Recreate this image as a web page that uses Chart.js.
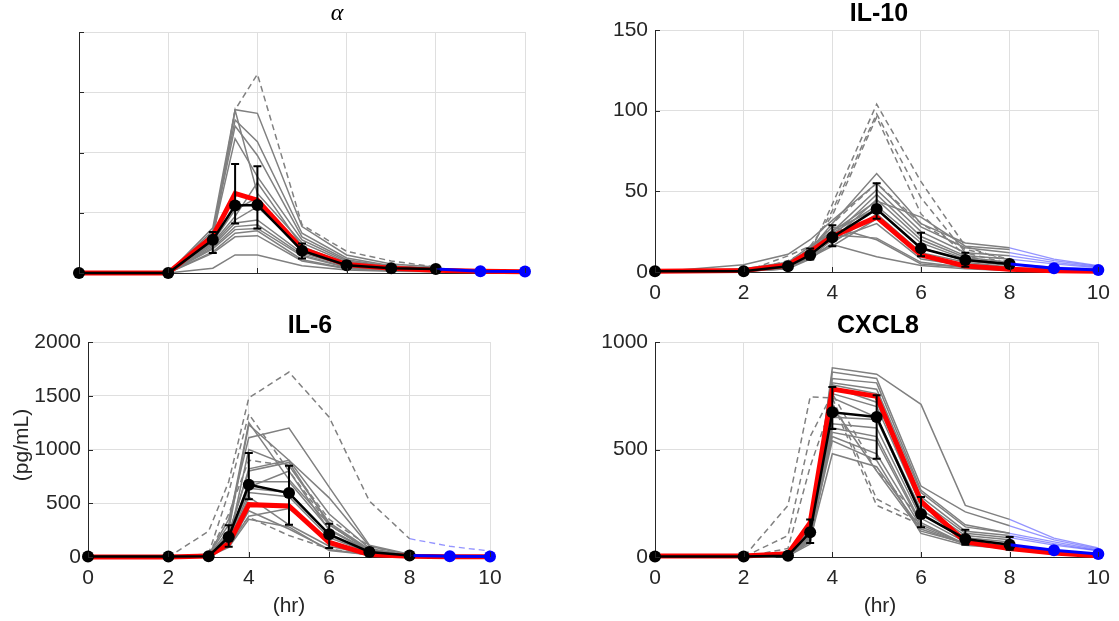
<!DOCTYPE html>
<html>
<head>
<meta charset="utf-8">
<script src="https://cdn.jsdelivr.net/npm/chart.js@4.4.0/dist/chart.umd.min.js"></script>
<style>
  body { margin: 0; background: #fff; }
  #wrap { position: relative; width: 1119px; height: 621px; }
  canvas { position: absolute; left: 0; top: 0; }
</style>
</head>
<body>
<div id="wrap">
  <canvas id="cAlpha" width="1119" height="621"></canvas>
  <canvas id="cIL10" width="1119" height="621"></canvas>
  <canvas id="cIL6" width="1119" height="621"></canvas>
  <canvas id="cCXCL8" width="1119" height="621"></canvas>
</div>
<script>
// sampling times (hr)
const tObs = [0, 2, 3, 3.5, 4, 5, 6, 7, 8];
const tModel = [0, 2, 3, 3.5, 4, 5, 6, 7, 8, 9, 10];
const tExt = [8, 9, 10];

// ---- alpha ----
const alphaMean = [0, 0, 0.55, 1.12, 1.13, 0.37, 0.13, 0.08, 0.066];
const alphaLo = [0, 0, 0.33, 0.82, 0.74, 0.24, 0.07, 0.05, 0.04];
const alphaHi = [0, 0, 0.68, 1.81, 1.77, 0.49, 0.19, 0.11, 0.09];
const alphaModel = [0, 0, 0.61, 1.32, 1.21, 0.40, 0.14, 0.08, 0.045, 0.03, 0.02];
const alphaMeanExt = [0.066, 0.03, 0.025];
const alphaSubj = [
  [0, 0, 0.75, 2.71, 2.65, 0.77, 0.30, 0.15, 0.10],
  [0, 0, 0.70, 2.54, 2.18, 0.66, 0.25, 0.12, 0.08],
  [0, 0, 0.65, 2.44, 1.95, 0.60, 0.22, 0.11, 0.07],
  [0, 0, 0.62, 2.23, 1.60, 0.55, 0.20, 0.10, 0.07],
  [0, 0, 0.55, 2.70, 1.32, 0.50, 0.18, 0.09, 0.06],
  [0, 0, 0.50, 0.94, 1.50, 0.44, 0.15, 0.08, 0.05],
  [0, 0, 0.48, 0.88, 1.10, 0.40, 0.14, 0.07, 0.05],
  [0, 0, 0.45, 0.83, 0.88, 0.33, 0.12, 0.06, 0.04],
  [0, 0, 0.42, 0.77, 0.80, 0.30, 0.10, 0.06, 0.04],
  [0, 0, 0.40, 0.72, 0.74, 0.28, 0.09, 0.05, 0.03],
  [0, 0, 0.35, 0.66, 0.70, 0.22, 0.08, 0.05, 0.03],
  [0, 0, 0.33, 0.60, 0.62, 0.20, 0.07, 0.04, 0.03],
  [0, 0, 0.08, 0.30, 0.30, 0.12, 0.05, 0.03, 0.02],
  [0, 0, 0.52, 1.05, 1.25, 0.36, 0.13, 0.07, 0.05]
];
const alphaSubjDash = [
  [0, 0, 0.60, 2.71, 3.30, 0.80, 0.36, 0.20, 0.10]
];

// ---- IL-10 ----
const il10Mean = [0.5, 0.5, 3.5, 10.5, 21.5, 39, 14.7, 7.4, 5];
const il10Lo = [0.5, 0.5, 2.5, 7.8, 16, 33, 9.7, 3.3, 3.3];
const il10Hi = [0.5, 0.5, 4.5, 14.5, 29, 55, 24.4, 12, 7];
const il10Model = [0.5, 1, 4.3, 12.6, 22, 34, 10.5, 3.7, 1.7, 0.8, 0.5];
const il10MeanExt = [5, 2.3, 1.2];
const il10Subj = [
  [0, 2, 6, 14, 30, 61, 30, 18, 15],
  [0, 4.5, 11, 20, 32, 55, 28, 15, 12],
  [0, 1, 5, 12, 25, 51, 25, 12, 10],
  [0, 1, 4, 10, 22, 48, 22, 10, 8],
  [0, 0.5, 3, 9, 20, 45, 20, 9, 6],
  [0, 0.5, 3, 11, 24, 41, 18, 8, 5],
  [0, 1, 4, 13, 26, 39, 15, 7, 4],
  [0, 0.5, 2, 8, 18, 36, 12, 6, 3],
  [0, 0.5, 2, 9, 16, 33, 10, 5, 3],
  [0, 0.5, 3, 12, 23, 21, 6, 3, 2],
  [0, 1, 5, 14, 28, 20, 5, 3, 2],
  [0, 0.5, 2, 10, 17, 9.5, 4, 2, 1],
  [0, 0.5, 3, 12, 20, 30, 8, 4, 2],
  [0, 1, 6, 16, 25, 44, 34, 16, 14]
];
const il10SubjDash = [
  [0, 0, 4, 12, 42, 104, 56, 16, 6],
  [0, 0, 7, 14, 38, 98, 46, 12, 5],
  [0, 0, 10, 16, 35, 96, 36, 10, 4],
  [0, 0, 5, 12, 30, 55, 30, 14, 8]
];
const il10SubjExt = [[15, 8, 4], [12, 7, 3.5], [10, 6, 3], [8, 5, 2.5], [5, 3, 2]];

// ---- IL-6 ----
const il6Mean = [5, 5, 8, 186, 672, 595, 211, 47, 15];
const il6Lo = [5, 5, 5, 95, 537, 299, 83, 20, 5];
const il6Hi = [5, 5, 12, 295, 968, 848, 310, 80, 25];
const il6Model = [0, 0, 10, 125, 487, 475, 135, 22, 7, 3, 2];
const il6MeanExt = [15, 6, 4];
const il6Subj = [
  [0, 0, 20, 300, 1250, 720, 300, 60, 15],
  [0, 0, 15, 250, 1230, 900, 550, 100, 20],
  [0, 0, 20, 350, 1110, 1200, 650, 110, 25],
  [0, 0, 10, 200, 820, 900, 400, 80, 15],
  [0, 0, 10, 220, 800, 880, 300, 60, 12],
  [0, 0, 10, 180, 650, 800, 250, 50, 10],
  [0, 0, 10, 150, 640, 600, 200, 40, 10],
  [0, 0, 5, 130, 600, 560, 180, 40, 8],
  [0, 0, 5, 120, 560, 300, 100, 25, 5],
  [0, 0, 5, 100, 430, 260, 70, 20, 5],
  [0, 0, 5, 100, 380, 450, 150, 30, 8],
  [0, 0, 5, 160, 700, 700, 260, 60, 12],
  [0, 0, 5, 140, 1000, 850, 320, 70, 15],
  [0, 0, 5, 90, 350, 280, 60, 20, 5]
];
const il6SubjDash = [
  [0, 0, 240, 700, 1480, 1720, 1300, 520, 170],
  [0, 0, 30, 600, 1330, 800, 300, 60, 15],
  [0, 0, 20, 400, 900, 850, 350, 100, 20],
  [0, 0, 10, 150, 370, 200, 75, 20, 5]
];
const il6SubjDashExt = [[170, 100, 55]];

// ---- CXCL8 ----
const cxcl8Mean = [2, 2, 6, 115, 673, 651, 200, 84, 57];
const cxcl8Lo = [2, 2, 4, 65, 595, 457, 138, 57, 34];
const cxcl8Hi = [2, 2, 8, 174, 791, 752, 279, 127, 93];
const cxcl8Model = [5, 5, 15, 160, 781, 747, 259, 70, 39, 19, 6];
const cxcl8MeanExt = [57, 31, 14];
const cxcl8Subj = [
  [0, 0, 5, 100, 880, 850, 710, 240, 175],
  [0, 0, 5, 120, 860, 830, 330, 210, 145],
  [0, 0, 5, 90, 830, 810, 310, 150, 110],
  [0, 0, 5, 110, 810, 780, 300, 140, 110],
  [0, 0, 5, 130, 800, 760, 280, 120, 100],
  [0, 0, 5, 80, 790, 720, 260, 110, 90],
  [0, 0, 5, 150, 760, 700, 240, 100, 80],
  [0, 0, 5, 100, 740, 650, 220, 90, 70],
  [0, 0, 5, 60, 650, 640, 200, 80, 60],
  [0, 0, 5, 120, 620, 600, 180, 70, 50],
  [0, 0, 5, 90, 600, 560, 160, 60, 50],
  [0, 0, 5, 70, 580, 540, 150, 60, 40],
  [0, 0, 5, 110, 560, 480, 140, 60, 40],
  [0, 0, 5, 100, 540, 450, 110, 55, 40],
  [0, 0, 5, 80, 480, 420, 130, 60, 45],
  [0, 0, 5, 140, 700, 400, 120, 65, 50]
];
const cxcl8SubjDash = [
  [0, 0, 240, 745, 740, 270, 160, null, null],
  [0, 0, 100, 560, 760, 400, 180, null, null],
  [0, 0, 40, 420, 720, 240, 150, null, null]
];
const cxcl8SubjExt = [[175, 88, 42], [145, 80, 38], [110, 70, 33], [100, 62, 30], [90, 55, 28]];

const GRAY = '#808080';
const LBLUE = 'rgba(60,60,255,0.55)';
const AXIS = '#262626';
const GRID = '#dfdfdf';
const FONT = '"Liberation Sans", Arial, sans-serif';

function pts(ts, vs) {
  return ts.map((t, i) => ({ x: t, y: vs[i] }));
}

function line(data, color, width, order) {
  return {
    data: data, borderColor: color, borderWidth: width, order: order,
    pointRadius: 0, fill: false, tension: 0, spanGaps: false, clip: false
  };
}

function buildDatasets(p) {
  const ds = [];
  p.subj.forEach(v => ds.push(line(pts(tObs, v), GRAY, 1.5, 10)));
  p.dash.forEach(v => ds.push(Object.assign(line(pts(tObs, v), GRAY, 1.5, 10), { borderDash: [6, 4] })));
  (p.subjExt || []).forEach(v => ds.push(line(pts(tExt, v), LBLUE, 1.3, 9)));
  (p.dashExt || []).forEach(v => ds.push(Object.assign(line(pts(tExt, v), LBLUE, 1.3, 9), { borderDash: [6, 4] })));
  ds.push(line(pts(tModel, p.model), '#ff0000', 5, 5));
  ds.push(Object.assign(line(pts(tObs, p.mean), '#000000', 2.5, 3),
    { pointRadius: 6, pointBackgroundColor: '#000000', pointBorderWidth: 0 }));
  ds.push(Object.assign(line(pts(tExt, p.meanExt), '#0000ff', 3, 2),
    { pointRadius: [0, 6, 6], pointBackgroundColor: '#0000ff', pointBorderWidth: 0 }));
  return ds;
}

// mean +/- error bars
const errBarPlugin = {
  id: 'errBars',
  afterDatasetsDraw(chart, args, opts) {
    const ctx = chart.ctx, x = chart.scales.x, y = chart.scales.y;
    ctx.save();
    ctx.strokeStyle = '#000';
    ctx.lineWidth = 2;
    opts.t.forEach((t, i) => {
      const px = x.getPixelForValue(t);
      const yl = y.getPixelForValue(opts.lo[i]);
      const yh = y.getPixelForValue(opts.hi[i]);
      ctx.beginPath();
      ctx.moveTo(px, yl); ctx.lineTo(px, yh);
      ctx.moveTo(px - 4, yl); ctx.lineTo(px + 4, yl);
      ctx.moveTo(px - 4, yh); ctx.lineTo(px + 4, yh);
      ctx.stroke();
    });
    ctx.restore();
  }
};

// matlab style inward ticks + titles / axis labels
const decoPlugin = {
  id: 'deco',
  afterDraw(chart, args, opts) {
    const ctx = chart.ctx, x = chart.scales.x, y = chart.scales.y, a = chart.chartArea;
    ctx.save();
    ctx.strokeStyle = AXIS;
    ctx.lineWidth = 1;
    ctx.beginPath();
    x.ticks.forEach(tk => {
      const px = Math.round(x.getPixelForValue(tk.value)) + 0.5;
      ctx.moveTo(px, a.bottom); ctx.lineTo(px, a.bottom - 5);
    });
    y.ticks.forEach(tk => {
      const py = Math.round(y.getPixelForValue(tk.value)) + 0.5;
      ctx.moveTo(a.left, py); ctx.lineTo(a.left + 5, py);
    });
    ctx.stroke();

    ctx.textAlign = 'center';
    ctx.textBaseline = 'alphabetic';
    ctx.fillStyle = '#000';
    ctx.font = opts.titleFont;
    ctx.fillText(opts.title, opts.titleX, opts.titleY);
    ctx.fillStyle = AXIS;
    ctx.font = '21px ' + FONT;
    if (opts.xLabel) ctx.fillText(opts.xLabel, opts.xLabelX, opts.xLabelY);
    if (opts.yLabel) {
      ctx.translate(opts.yLabelX, opts.yLabelY);
      ctx.rotate(-Math.PI / 2);
      ctx.textBaseline = 'middle';
      ctx.fillText(opts.yLabel, 0, 0);
    }
    ctx.restore();
  }
};

function makePanel(id, p) {
  const YW = p.yw, XH = 40;
  new Chart(document.getElementById(id), {
    type: 'line',
    data: { datasets: buildDatasets(p) },
    plugins: [errBarPlugin, decoPlugin],
    options: {
      responsive: false,
      animation: false,
      events: [],
      layout: {
        autoPadding: false,
        padding: { left: p.box[0] - YW, right: 1119 - p.box[1], top: p.box[2], bottom: 621 - p.box[3] - XH }
      },
      plugins: {
        legend: { display: false },
        tooltip: { enabled: false },
        errBars: { t: tObs, lo: p.lo, hi: p.hi },
        deco: p.deco
      },
      scales: {
        x: {
          type: 'linear', min: 0, max: 10,
          afterFit: s => { s.height = XH; },
          ticks: { stepSize: 2, display: p.showX, color: AXIS, padding: 9, maxRotation: 0,
                   font: { family: FONT, size: 21 }, callback: v => String(v) },
          grid: { color: GRID, drawTicks: false },
          border: { color: AXIS, width: 1 }
        },
        y: {
          type: 'linear', min: 0, max: p.ymax,
          afterFit: s => { s.width = YW; },
          ticks: { stepSize: p.ystep, display: p.showY, color: AXIS, padding: 7,
                   font: { family: FONT, size: 21 }, callback: v => String(v) },
          grid: { color: GRID, drawTicks: false },
          border: { color: AXIS, width: 1 }
        }
      }
    }
  });
}

const titleFont = 'bold 25px ' + FONT;

makePanel('cAlpha', {
  box: [79, 525, 32, 273], yw: 20, ymax: 4, ystep: 1, showX: false, showY: false,
  mean: alphaMean, lo: alphaLo, hi: alphaHi, model: alphaModel, meanExt: alphaMeanExt,
  subj: alphaSubj, dash: alphaSubjDash,
  deco: { title: 'α', titleFont: 'italic 24px "Liberation Serif", serif', titleX: 337, titleY: 20 }
});

makePanel('cIL10', {
  box: [655, 1102, 30, 272], yw: 60, ymax: 150, ystep: 50, showX: true, showY: true,
  mean: il10Mean, lo: il10Lo, hi: il10Hi, model: il10Model, meanExt: il10MeanExt,
  subj: il10Subj, dash: il10SubjDash, subjExt: il10SubjExt,
  deco: { title: 'IL-10', titleFont: titleFont, titleX: 879, titleY: 21 }
});

makePanel('cIL6', {
  box: [88, 490, 342, 557], yw: 70, ymax: 2000, ystep: 500, showX: true, showY: true,
  mean: il6Mean, lo: il6Lo, hi: il6Hi, model: il6Model, meanExt: il6MeanExt,
  subj: il6Subj, dash: il6SubjDash, dashExt: il6SubjDashExt,
  deco: { title: 'IL-6', titleFont: titleFont, titleX: 310, titleY: 333,
          xLabel: '(hr)', xLabelX: 289, xLabelY: 612,
          yLabel: '(pg/mL)', yLabelX: 22, yLabelY: 445 }
});

makePanel('cCXCL8', {
  box: [655, 1102, 342, 557], yw: 60, ymax: 1000, ystep: 500, showX: true, showY: true,
  mean: cxcl8Mean, lo: cxcl8Lo, hi: cxcl8Hi, model: cxcl8Model, meanExt: cxcl8MeanExt,
  subj: cxcl8Subj, dash: cxcl8SubjDash, subjExt: cxcl8SubjExt,
  deco: { title: 'CXCL8', titleFont: titleFont, titleX: 878, titleY: 333,
          xLabel: '(hr)', xLabelX: 880, xLabelY: 612 }
});
</script>
</body>
</html>
